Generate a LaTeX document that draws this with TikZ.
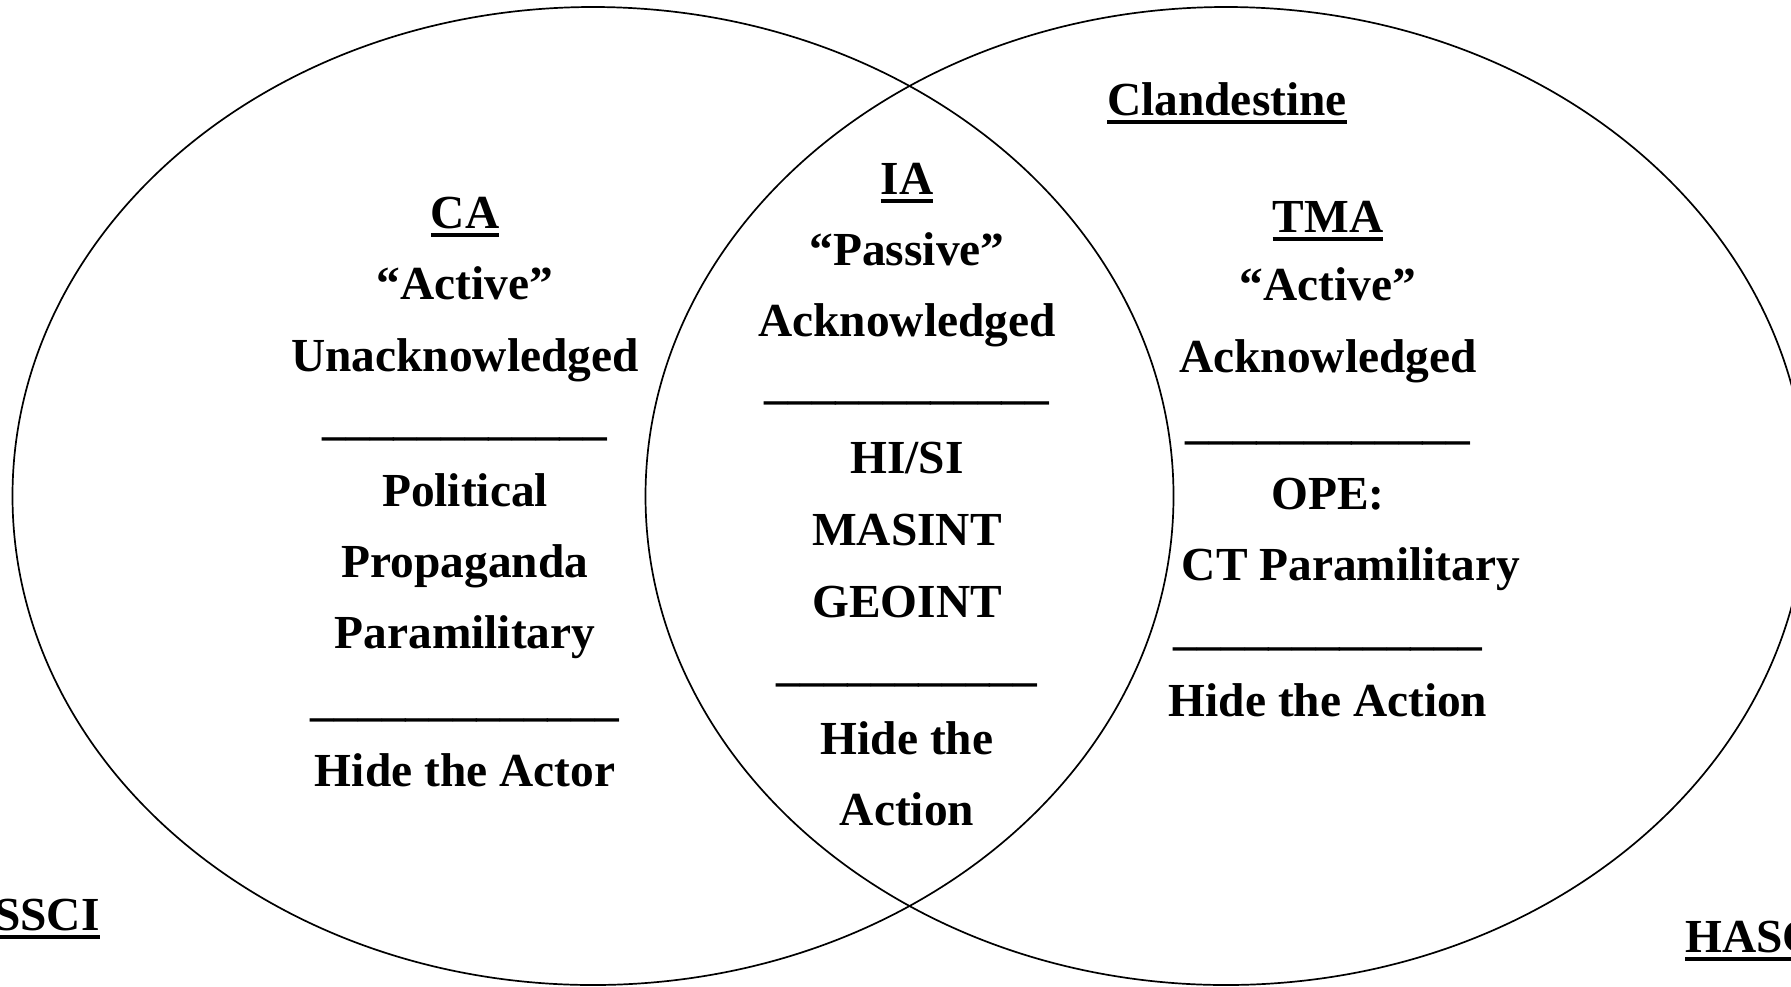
\documentclass[tikz,border=0pt]{standalone}
\usepackage{fontspec}
\setmainfont{Liberation Serif}
\newcommand\myul[1]{\setbox0\hbox{#1}\rlap{\rule[-4.5pt]{\wd0}{2pt}}\box0}
\begin{document}
\begin{tikzpicture}[x=0.5pt,y=-0.5pt,
  venn/.style={draw=black,line width=0.85pt},
  txt/.style={anchor=base,inner sep=0pt,font=\fontsize{23.7}{28}\selectfont\bfseries}]
\useasboundingbox (0,0) rectangle (1791,986);
\begin{scope}
\clip (0,0) rectangle (1791,986);
\draw[venn] (593,496) ellipse [x radius=580.5, y radius=489];
\draw[venn] (1226,496) ellipse [x radius=580.5, y radius=489];
\node[txt,anchor=base east] (sscil) at (100,930) {\myul{SSCI}};
\node[txt,anchor=base west] (hasc) at (1685,952) {\myul{HASC}};
\end{scope}
% left set
\node[txt] (ca) at (465,228) {\myul{CA}};
\node[txt] (caact) at (465,299) {“Active”};
\node[txt] (caun) at (465,371) {Unacknowledged};
\node[txt] (cal1) at (465,434) {\_\_\_\_\_\_\_\_\_\_\_\_};
\node[txt] (capol) at (465,506) {Political};
\node[txt] (capro) at (465,577) {Propaganda};
\node[txt] (capar) at (465,648) {Paramilitary};
\node[txt] (cal2) at (465,715) {\_\_\_\_\_\_\_\_\_\_\_\_\_};
\node[txt] (cahide) at (465,786) {Hide the Actor};
% middle
\node[txt] (ia) at (907,194) {\myul{IA}};
\node[txt] (iapas) at (907,265) {“Passive”};
\node[txt] (iaack) at (907,336) {Acknowledged};
\node[txt] (ial1) at (907,398) {\_\_\_\_\_\_\_\_\_\_\_\_};
\node[txt] (iahs) at (907,473) {HI/SI};
\node[txt] (iamas) at (907,545) {MASINT};
\node[txt] (iageo) at (907,617) {GEOINT};
\node[txt] (ial2) at (907,680) {\_\_\_\_\_\_\_\_\_\_\_};
\node[txt] (iahide) at (907,754) {Hide the};
\node[txt] (iaact) at (907,825) {Action};
% right
\node[txt] (cland) at (1227,115) {\myul{Clandestine}};
\node[txt] (tma) at (1328,232) {\myul{TMA}};
\node[txt] (tmaact) at (1328,300) {“Active”};
\node[txt] (tmaack) at (1328,372) {Acknowledged};
\node[txt] (tmal1) at (1328,438) {\_\_\_\_\_\_\_\_\_\_\_\_};
\node[txt] (tmaope) at (1328,509) {OPE:};
\node[txt] (tmact) at (1351,580) {CT Paramilitary};
\node[txt] (tmal2) at (1328,644) {\_\_\_\_\_\_\_\_\_\_\_\_\_};
\node[txt] (tmahide) at (1328,716) {Hide the Action};
\end{tikzpicture}
\end{document}
